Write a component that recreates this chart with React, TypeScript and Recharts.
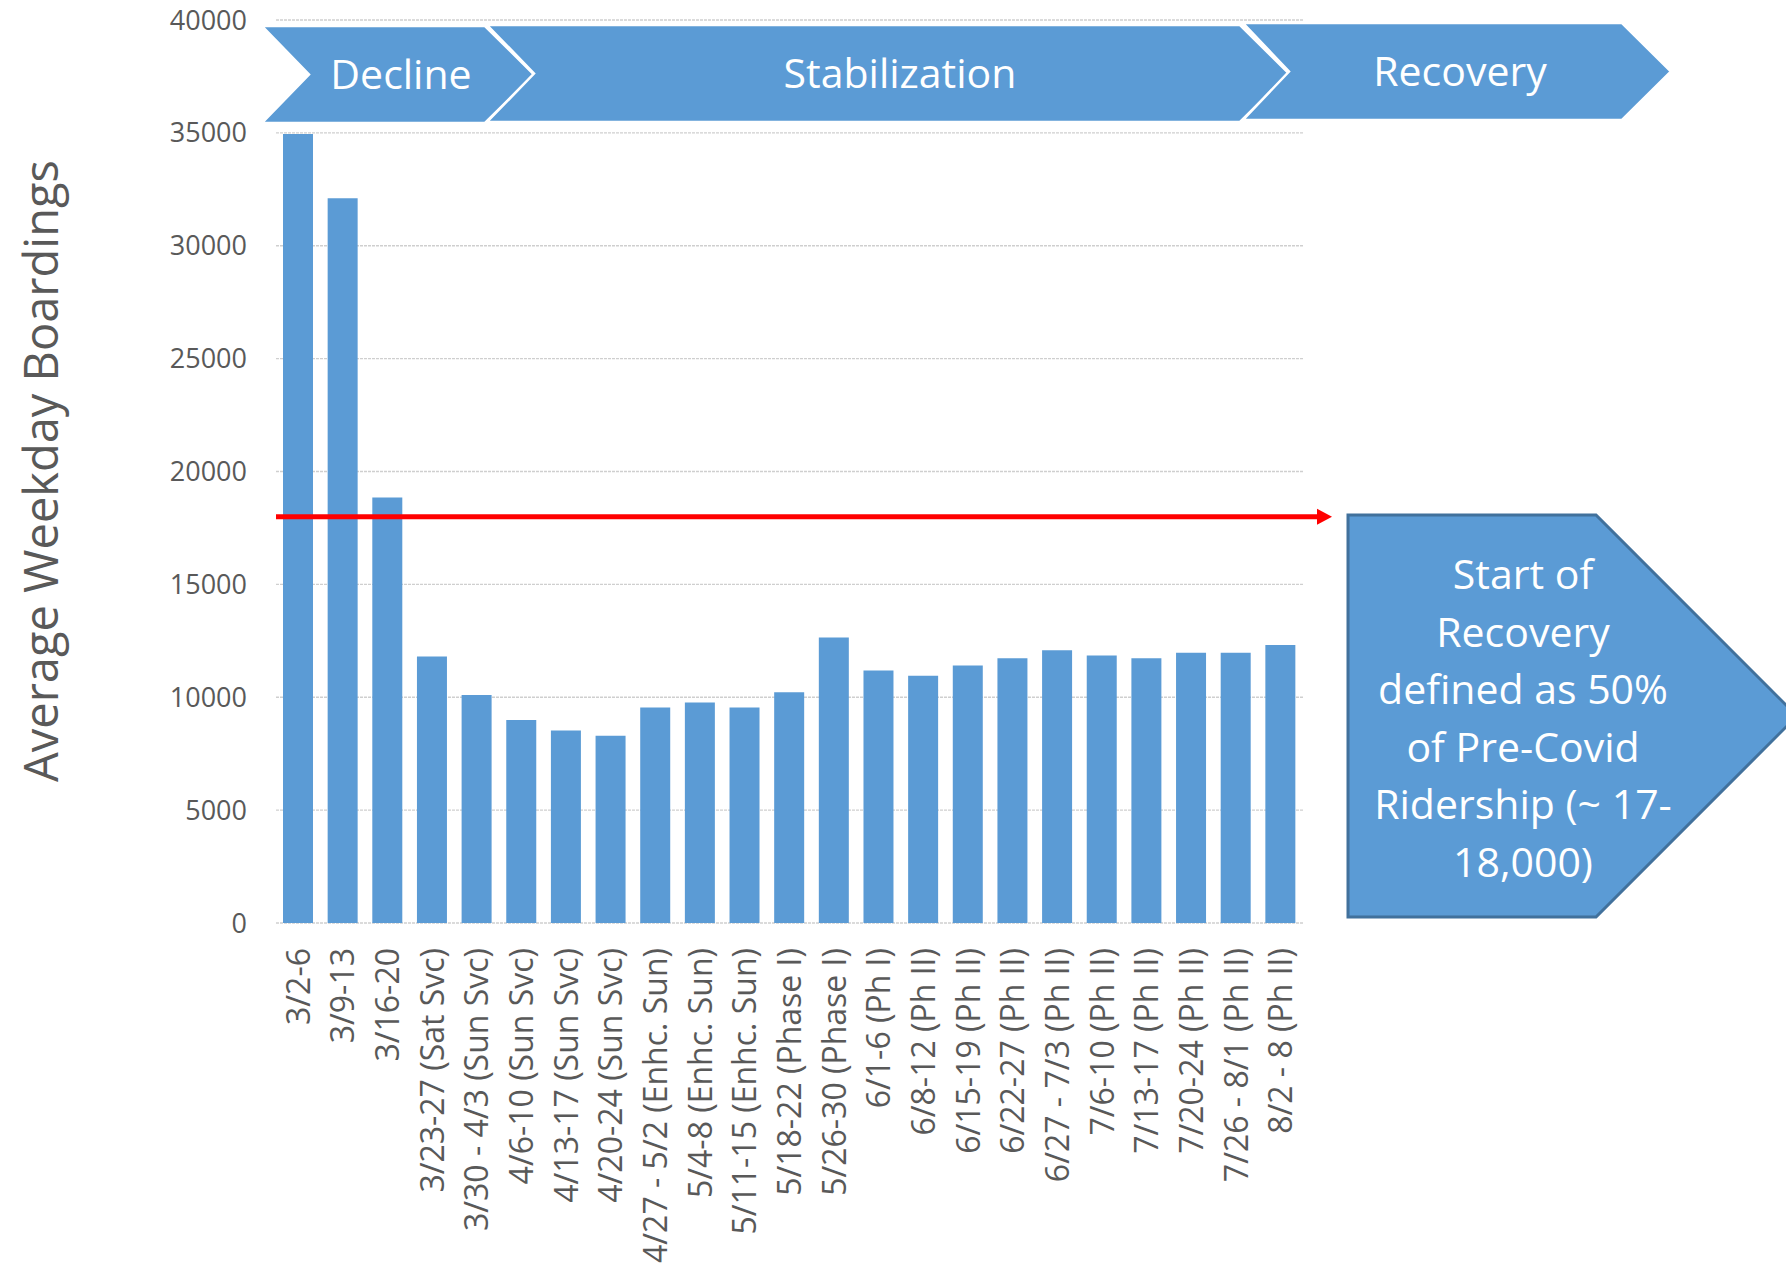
import React from 'react';
import { BarChart, Bar, XAxis, YAxis, CartesianGrid, ReferenceLine } from 'recharts';

const weeks = [
  '3/2-6',
  '3/9-13',
  '3/16-20',
  '3/23-27 (Sat Svc)',
  '3/30 - 4/3 (Sun Svc)',
  '4/6-10 (Sun Svc)',
  '4/13-17 (Sun Svc)',
  '4/20-24 (Sun Svc)',
  '4/27 - 5/2 (Enhc. Sun)',
  '5/4-8 (Enhc. Sun)',
  '5/11-15 (Enhc. Sun)',
  '5/18-22 (Phase I)',
  '5/26-30 (Phase I)',
  '6/1-6 (Ph I)',
  '6/8-12 (Ph II)',
  '6/15-19 (Ph II)',
  '6/22-27 (Ph II)',
  '6/27 - 7/3 (Ph II)',
  '7/6-10 (Ph II)',
  '7/13-17 (Ph II)',
  '7/20-24 (Ph II)',
  '7/26 - 8/1 (Ph II)',
  '8/2 - 8 (Ph II)',
];

const boardings = [
  34950, 32100, 18850, 11800, 10100, 8990, 8530, 8300, 9550, 9770, 9550, 10220,
  12650, 11190, 10950, 11410, 11730, 12080, 11850, 11730, 11970, 11970, 12310,
];

const yTicks = [0, 5000, 10000, 15000, 20000, 25000, 30000, 35000, 40000];

const recoveryThreshold = 18000;

const phases = ['Decline', 'Stabilization', 'Recovery'];

const calloutLines = [
  'Start of',
  'Recovery',
  'defined as 50%',
  'of Pre-Covid',
  'Ridership (~ 17-',
  '18,000)',
];

const yTitle = 'Average  Weekday  Boardings';

const chartData = weeks.map((week, i) => ({ week, boardings: boardings[i] }));

const FONT = '"Open Sans", "Noto Sans", sans-serif';
const BLUE = '#5B9BD5';
const GREY = '#595959';

const XTick = (props: any) => {
  const { x, y, payload } = props;
  const ty = y + 25;
  return (
    <text
      x={x}
      y={ty}
      transform={`rotate(-90 ${x} ${ty})`}
      textAnchor="end"
      dy="0.36em"
      fill={GREY}
      fontSize={32}
      fontFamily={FONT}
    >
      {payload.value}
    </text>
  );
};

// red threshold line runs a little past the plot, ending in an arrow head
const ArrowLine = (props: any) => {
  const { x1, y1, x2 } = props;
  const end = x2 + 14;
  return (
    <g>
      <line x1={x1} y1={y1} x2={end} y2={y1} stroke="#FF0000" strokeWidth={5} />
      <polygon points={`${end},${y1 - 8} ${x2 + 29},${y1} ${end},${y1 + 8}`} fill="#FF0000" />
    </g>
  );
};

// phase chevrons above the plot
const chevrons = [
  { left: 262, notch: 309, right: 485, tip: 534, top: 26, bottom: 123, cx: 401, base: 89 },
  { left: 487, notch: 534, right: 1240, tip: 1289, top: 25, bottom: 122, cx: 900, base: 88 },
  { left: 1243, notch: 1289, right: 1622, tip: 1671, top: 23, bottom: 120, cx: 1460, base: 86 },
];

export default function App() {
  return (
    <div style={{ position: 'absolute', left: 0, top: 0, width: 1786, height: 1268, background: '#fff', overflow: 'hidden' }}>
      <BarChart
        width={1786}
        height={1268}
        data={chartData}
        margin={{ top: 20, right: 483, bottom: 45, left: 0 }}
        barSize={30}
      >
        <CartesianGrid vertical={false} stroke="#CFCFCF" strokeWidth={1.4} strokeDasharray="3 1" />
        <XAxis
          dataKey="week"
          interval={0}
          height={300}
          axisLine={false}
          tickLine={false}
          tickSize={0}
          tickMargin={0}
          tick={<XTick />}
        />
        <YAxis
          width={276}
          domain={[0, 40000]}
          ticks={yTicks}
          interval={0}
          axisLine={false}
          tickLine={false}
          tickSize={0}
          tickMargin={29}
          tick={{ fill: GREY, fontSize: 27, fontFamily: FONT }}
        />
        <Bar dataKey="boardings" fill={BLUE} isAnimationActive={false} />
        <ReferenceLine y={recoveryThreshold} ifOverflow="visible" shape={<ArrowLine />} />
      </BarChart>
      <svg
        width={1786}
        height={1268}
        style={{ position: 'absolute', left: 0, top: 0, pointerEvents: 'none' }}
      >
        <text
          x={41}
          y={471}
          transform="rotate(-90 41 471)"
          textAnchor="middle"
          dy="0.36em"
          fill={GREY}
          fontSize={47}
          fontFamily={FONT}
        >
          {yTitle}
        </text>
        {chevrons.map((c, i) => {
          const mid = (c.top + c.bottom) / 2;
          return (
            <g key={phases[i]}>
              <polygon
                points={`${c.left},${c.top} ${c.right},${c.top} ${c.tip},${mid} ${c.right},${c.bottom} ${c.left},${c.bottom} ${c.notch},${mid}`}
                fill={BLUE}
                stroke="#fff"
                strokeWidth={2.5}
              />
              <text x={c.cx} y={c.base} textAnchor="middle" fill="#fff" fontSize={41} fontFamily={FONT}>
                {phases[i]}
              </text>
            </g>
          );
        })}
        <polygon
          points="1348,515 1596,515 1797,716 1596,917 1348,917"
          fill={BLUE}
          stroke="#41719C"
          strokeWidth={3}
        />
        {calloutLines.map((line, i) => (
          <text
            key={line}
            x={1523}
            y={589 + i * 57.5}
            textAnchor="middle"
            fill="#fff"
            fontSize={41}
            fontFamily={FONT}
          >
            {line}
          </text>
        ))}
      </svg>
    </div>
  );
}
